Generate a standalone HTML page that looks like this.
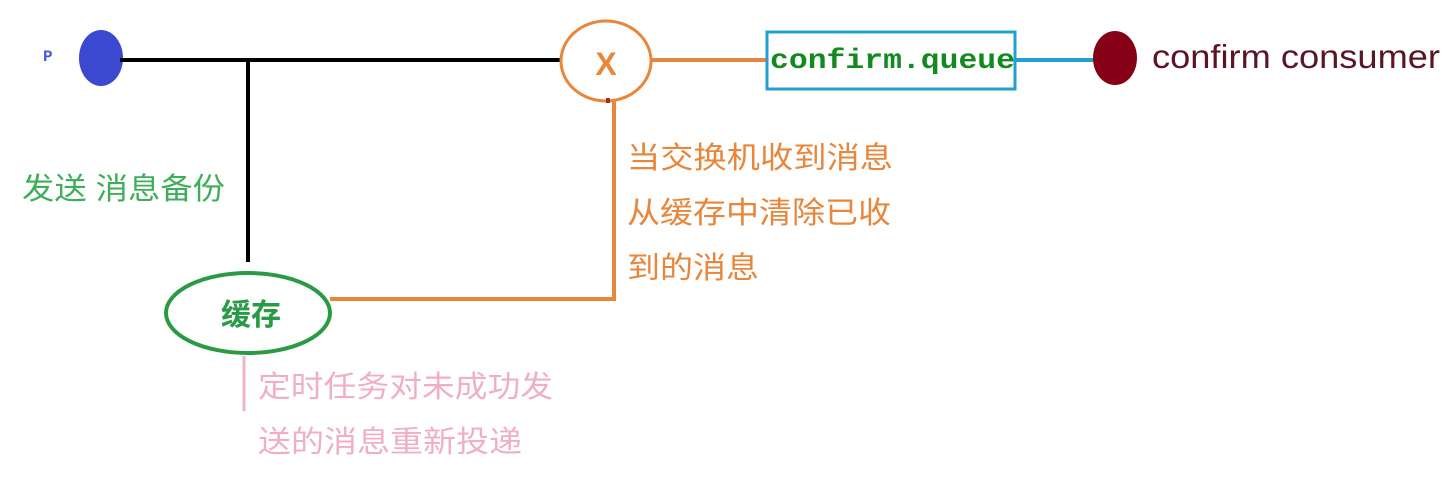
<!DOCTYPE html>
<html><head><meta charset="utf-8"><style>
body{margin:0;width:1456px;height:476px;background:#fff;overflow:hidden;}
.s{font-family:"Liberation Sans","Noto Sans CJK SC",sans-serif;}
.m{font-family:"Liberation Mono",monospace;}
</style></head><body>
<svg width="1456" height="476" xmlns="http://www.w3.org/2000/svg">
<text class="m" x="43" y="61" font-weight="bold" font-size="16" fill="#4a5ad0">P</text>
<ellipse cx="101" cy="58" rx="22" ry="28" fill="#3b48d0"/>
<line x1="120" y1="60" x2="562" y2="60" stroke="#000" stroke-width="4"/>
<line x1="248" y1="60" x2="248" y2="262" stroke="#000" stroke-width="4"/>
<ellipse cx="606" cy="61" rx="45" ry="40" fill="#fff" stroke="#e8873c" stroke-width="3"/>
<text class="s" x="606" y="75" text-anchor="middle" font-size="32" font-weight="bold" fill="#e8873c">X</text>
<line x1="652" y1="60" x2="768" y2="60" stroke="#e8873c" stroke-width="4"/>
<rect x="767" y="32" width="248" height="57" fill="#fff" stroke="#22a0d4" stroke-width="3"/>
<text class="m" x="770" y="68" font-weight="bold" font-size="28" fill="#138a20" textLength="245" lengthAdjust="spacingAndGlyphs">confirm.queue</text>
<line x1="1015" y1="60" x2="1096" y2="60" stroke="#22a0d4" stroke-width="4"/>
<ellipse cx="1115" cy="58" rx="22" ry="27" fill="#850015"/>
<text class="s" x="1152" y="68" font-size="33" fill="#5a1526" textLength="288" lengthAdjust="spacingAndGlyphs">confirm consumer</text>
<polyline points="614,100 614,299 330,299" fill="none" stroke="#e8873c" stroke-width="4"/>
<rect x="606" y="98" width="4" height="5" fill="#a03020"/>
<text class="s" x="627" y="168" font-size="30" fill="#e8873c" textLength="266" lengthAdjust="spacingAndGlyphs">当交换机收到消息</text>
<text class="s" x="627" y="223" font-size="30" fill="#e8873c" textLength="264" lengthAdjust="spacingAndGlyphs">从缓存中清除已收</text>
<text class="s" x="627" y="278" font-size="30" fill="#e8873c" textLength="132" lengthAdjust="spacingAndGlyphs">到的消息</text>
<text class="s" x="22" y="199" font-size="30" fill="#3fae5a" textLength="203" lengthAdjust="spacingAndGlyphs">发送 消息备份</text>
<ellipse cx="248" cy="313" rx="82" ry="40" fill="#fff" stroke="#2a9a45" stroke-width="4"/>
<text class="s" x="251" y="325" text-anchor="middle" font-size="30" font-weight="bold" fill="#2a9a45">缓存</text>
<line x1="244" y1="356" x2="244" y2="411" stroke="#f0b4c8" stroke-width="3"/>
<text class="s" x="258" y="397" font-size="30" fill="#f0b0c4" textLength="295" lengthAdjust="spacingAndGlyphs">定时任务对未成功发</text>
<text class="s" x="258" y="452" font-size="30" fill="#f0b0c4" textLength="264" lengthAdjust="spacingAndGlyphs">送的消息重新投递</text>
</svg>
</body></html>
